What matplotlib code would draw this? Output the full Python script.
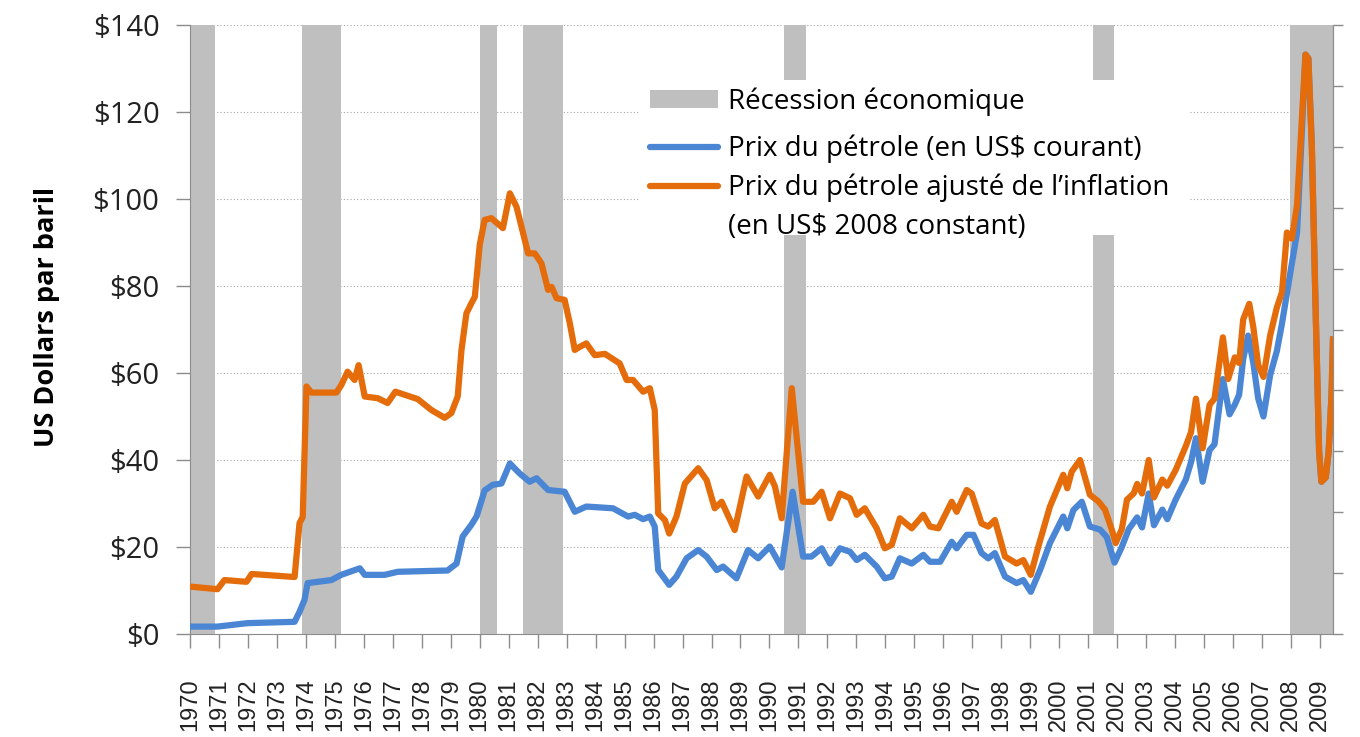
"""Prix du pétrole 1970-2009, courant vs ajusté de l'inflation, avec récessions."""
import matplotlib

matplotlib.use("Agg")
import matplotlib.pyplot as plt  # noqa: E402
from matplotlib.lines import Line2D  # noqa: E402
from matplotlib.patches import Patch, Rectangle  # noqa: E402

# --- data ---------------------------------------------------------------
recession_start = [1970.0, 1973.85, 1980.0, 1981.5, 1990.5, 2001.15, 2007.95]
recession_end = [1970.88, 1975.2, 1980.58, 1982.88, 1991.25, 2001.88, 2009.45]

real_years = [
    1970.0, 1970.95, 1971.19, 1971.95, 1972.13, 1973.61, 1973.78, 1973.89,
    1974.02, 1974.19, 1975.05, 1975.22, 1975.44, 1975.68, 1975.82, 1976.03,
    1976.48, 1976.82, 1977.09, 1977.86, 1978.33, 1978.79, 1979.02, 1979.24,
    1979.37, 1979.54, 1979.71, 1979.83, 1980.0, 1980.17, 1980.4, 1980.8,
    1981.04, 1981.27, 1981.5, 1981.67, 1981.9, 1982.13, 1982.36, 1982.48,
    1982.65, 1982.93, 1983.11, 1983.28, 1983.45, 1983.68, 1983.97, 1984.32,
    1984.83, 1985.07, 1985.29, 1985.64, 1985.87, 1986.04, 1986.16, 1986.39,
    1986.54, 1986.79, 1987.08, 1987.54, 1987.83, 1988.11, 1988.35, 1988.8,
    1989.21, 1989.61, 1990.01, 1990.19, 1990.42, 1990.77, 1991.16, 1991.51,
    1991.8, 1992.09, 1992.43, 1992.78, 1993.01, 1993.29, 1993.7, 1993.98,
    1994.22, 1994.5, 1994.91, 1995.31, 1995.54, 1995.83, 1996.29, 1996.46,
    1996.81, 1996.98, 1997.32, 1997.55, 1997.78, 1998.13, 1998.53, 1998.76,
    1999.02, 1999.28, 1999.68, 2000.14, 2000.28, 2000.43, 2000.72, 2001.06,
    2001.35, 2001.58, 2001.81, 2001.95, 2002.16, 2002.34, 2002.57, 2002.69,
    2002.86, 2003.09, 2003.27, 2003.56, 2003.73, 2004.02, 2004.37, 2004.55,
    2004.72, 2004.95, 2005.19, 2005.36, 2005.65, 2005.83, 2006.06, 2006.21,
    2006.35, 2006.56, 2006.7, 2006.87, 2007.05, 2007.28, 2007.51, 2007.69,
    2007.86, 2008.03, 2008.21, 2008.5, 2008.6, 2008.72, 2008.86, 2008.97,
    2009.05, 2009.2, 2009.3, 2009.4, 2009.45,
]
real_price = [
    10.9, 10.3, 12.4, 12.0, 13.8, 13.1, 25.5, 26.9,
    56.9, 55.5, 55.5, 57.2, 60.3, 58.4, 61.8, 54.6,
    54.2, 53.1, 55.7, 54.0, 51.5, 49.7, 50.8, 54.6,
    65.3, 73.7, 76.0, 77.5, 89.5, 95.2, 95.6, 93.3,
    101.3, 98.2, 92.1, 87.5, 87.5, 85.2, 79.1, 79.8,
    77.2, 76.8, 71.4, 65.3, 66.0, 66.8, 64.1, 64.4,
    62.2, 58.4, 58.4, 55.7, 56.5, 51.5, 27.7, 26.2,
    23.1, 27.0, 34.6, 38.1, 35.4, 28.9, 30.4, 23.9,
    36.2, 31.6, 36.6, 33.9, 26.6, 56.5, 30.4, 30.4,
    32.7, 26.6, 32.3, 31.2, 27.4, 28.9, 24.3, 19.7,
    20.5, 26.6, 24.3, 27.4, 24.7, 24.3, 30.4, 28.1,
    33.1, 32.3, 25.4, 24.7, 26.2, 17.8, 16.2, 17.0,
    13.6, 20.1, 29.3, 36.6, 33.5, 37.3, 40.0, 32.0,
    30.5, 28.6, 24.1, 20.9, 24.1, 30.9, 32.3, 34.5,
    32.3, 40.0, 31.4, 35.5, 34.1, 37.7, 43.2, 46.4,
    54.1, 42.7, 52.7, 54.1, 68.2, 58.6, 63.6, 62.3,
    72.3, 75.9, 70.5, 61.8, 59.1, 68.6, 75.0, 78.6,
    92.3, 90.9, 98.6, 133.2, 132.3, 112.0, 72.0, 42.0,
    35.0, 36.0, 42.0, 55.0, 67.7,
]

nominal_years = [
    1970.0, 1970.95, 1971.99, 1973.61, 1973.78, 1973.95, 1974.06, 1974.88,
    1975.22, 1975.86, 1976.03, 1976.72, 1977.17, 1978.89, 1979.2, 1979.41,
    1979.71, 1979.89, 1980.17, 1980.45, 1980.75, 1981.04, 1981.38, 1981.72,
    1981.96, 1982.36, 1982.93, 1983.28, 1983.68, 1984.6, 1985.12, 1985.35,
    1985.64, 1985.87, 1986.04, 1986.16, 1986.54, 1986.79, 1987.14, 1987.54,
    1987.83, 1988.18, 1988.4, 1988.86, 1989.26, 1989.61, 1990.01, 1990.42,
    1990.8, 1991.16, 1991.45, 1991.8, 1992.09, 1992.43, 1992.78, 1993.01,
    1993.29, 1993.7, 1993.98, 1994.22, 1994.5, 1994.91, 1995.31, 1995.54,
    1995.89, 1996.29, 1996.46, 1996.81, 1997.04, 1997.32, 1997.55, 1997.78,
    1998.13, 1998.53, 1998.76, 1999.02, 1999.34, 1999.68, 2000.14, 2000.28,
    2000.49, 2000.78, 2001.06, 2001.41, 2001.64, 2001.91, 2002.16, 2002.4,
    2002.69, 2002.86, 2003.09, 2003.27, 2003.56, 2003.73, 2004.02, 2004.37,
    2004.55, 2004.72, 2004.95, 2005.19, 2005.36, 2005.65, 2005.88, 2006.06,
    2006.21, 2006.35, 2006.52, 2006.7, 2006.87, 2007.05, 2007.28, 2007.51,
    2007.69, 2007.98, 2008.21, 2008.5, 2008.6, 2008.72, 2008.86, 2008.97,
    2009.05, 2009.2, 2009.3, 2009.4, 2009.45,
]
nominal_price = [
    1.7, 1.7, 2.5, 2.8, 5.1, 7.8, 11.7, 12.4,
    13.6, 15.1, 13.6, 13.6, 14.3, 14.6, 16.2, 22.4,
    25.1, 27.0, 33.0, 34.3, 34.6, 39.2, 36.9, 35.0,
    35.8, 33.1, 32.7, 28.1, 29.3, 28.9, 27.0, 27.4,
    26.4, 27.0, 24.7, 14.7, 11.3, 13.2, 17.4, 19.3,
    17.8, 14.7, 15.5, 12.8, 19.3, 17.4, 20.1, 15.3,
    32.7, 17.8, 17.8, 19.7, 16.2, 19.7, 18.9, 17.0,
    18.2, 15.5, 12.8, 13.2, 17.4, 16.2, 18.2, 16.6,
    16.6, 21.2, 19.7, 22.8, 22.8, 18.6, 17.4, 18.6,
    13.2, 11.7, 12.4, 9.7, 14.7, 20.9, 27.0, 24.3,
    28.5, 30.4, 24.7, 24.0, 22.3, 16.4, 20.0, 24.1,
    26.8, 24.5, 32.3, 25.0, 28.6, 26.4, 30.9, 35.5,
    39.5, 45.0, 35.0, 42.3, 43.6, 58.6, 50.5, 52.7,
    55.0, 63.2, 68.6, 62.3, 54.1, 50.0, 59.5, 65.0,
    71.4, 83.2, 92.3, 133.2, 132.3, 112.0, 72.0, 42.0,
    35.0, 36.0, 42.0, 55.0, 67.7,
]

year_ticks = list(range(1970, 2010))
price_ticks = [0, 20, 40, 60, 80, 100, 120, 140]

# --- styling --------------------------------------------------------------
BLUE = "#4A86D4"
ORANGE = "#E46C0A"
GREY_BAND = "#BFBFBF"
AXIS_GREY = "#8C8C8C"
W, H = 1360, 737
AX_LEFT, AX_TOP, AX_W, AX_H = 190, 25, 1143, 609  # pixels


def ax_x(px):
    return (px - AX_LEFT) / AX_W


def ax_y(py):
    return (AX_TOP + AX_H - py) / AX_H


fig = plt.figure(figsize=(W / 100, H / 100), dpi=100)
ax = fig.add_axes([AX_LEFT / W, (H - AX_TOP - AX_H) / H, AX_W / W, AX_H / H])

for start, end in zip(recession_start, recession_end):
    ax.axvspan(start, end, color=GREY_BAND, lw=0, zorder=1)

ax.plot(nominal_years, nominal_price, color=BLUE, lw=4.5, zorder=3,
        solid_joinstyle="round")
ax.plot(real_years, real_price, color=ORANGE, lw=4.5, zorder=4,
        solid_joinstyle="round")

ax.set_xlim(1970, 2009.45)
ax.set_ylim(0, 140)
ax.set_xticks(year_ticks)
ax.set_xticklabels([str(y) for y in year_ticks], rotation=90,
                   family="Liberation Sans", fontsize=17, color="#222222")
ax.set_yticks(price_ticks)
ax.set_yticklabels([f"${v}" for v in price_ticks], family="Open Sans",
                   fontsize=21, color="#222222")
ax.tick_params(axis="x", length=10, width=1, color=AXIS_GREY, pad=22)
ax.tick_params(axis="y", length=10, width=1, color=AXIS_GREY, pad=12)
ax.grid(axis="y", color="#A6A6A6", ls=(0, (1, 2)), lw=0.8, zorder=0)
ax.set_axisbelow(True)

for side in ("left", "bottom", "right"):
    ax.spines[side].set_color(AXIS_GREY)
ax.spines["top"].set_visible(False)

# secondary axis on the right: tick marks only
ax2 = ax.twinx()
ax2.set_ylim(0, 10)
ax2.set_yticks(range(11))
ax2.set_yticklabels([])
ax2.tick_params(axis="y", length=7, width=1, color=AXIS_GREY)
ax2.spines["right"].set_color(AXIS_GREY)
ax2.spines["top"].set_visible(False)
ax2.spines["left"].set_visible(False)
ax2.spines["bottom"].set_visible(False)

fig.text(47 / W, 1 - 317 / H, "US Dollars par baril", rotation=90,
         family="Open Sans", fontweight="bold", fontsize=19.5,
         ha="center", va="center")

# white block behind the legend (hides bands and grid like the original)
ax2.add_patch(Rectangle((ax_x(640), ax_y(235)), 550 / AX_W, 155 / AX_H,
                        transform=ax2.transAxes, facecolor="white",
                        edgecolor="none", zorder=9))

legend_font = {"family": "Open Sans", "size": 20}
leg1 = ax2.legend([Patch(facecolor=GREY_BAND, edgecolor="none")],
                  ["Récession économique"], loc="center left",
                  bbox_to_anchor=(ax_x(650), ax_y(102)),
                  prop=legend_font, frameon=False, handlelength=2.45,
                  handleheight=0.62, handletextpad=0.35,
                  borderpad=0, borderaxespad=0)
leg1.set_zorder(10)
ax2.add_artist(leg1)

line_handles = [
    Line2D([], [], color=BLUE, lw=4.5, solid_capstyle="round"),
    Line2D([], [], color=ORANGE, lw=4.5, solid_capstyle="round"),
    Line2D([], [], color="none"),
]
line_labels = [
    "Prix du pétrole (en US$ courant)",
    "Prix du pétrole ajusté de l’inflation",
    "(en US$ 2008 constant)",
]
leg2 = ax2.legend(line_handles, line_labels, loc="center left",
                  bbox_to_anchor=(ax_x(650), ax_y(188)),
                  prop=legend_font, frameon=False, handlelength=2.45,
                  handletextpad=0.35, labelspacing=0.38,
                  borderpad=0, borderaxespad=0)
leg2.set_zorder(10)

fig.savefig("out.png", dpi=100)
plt.close(fig)
